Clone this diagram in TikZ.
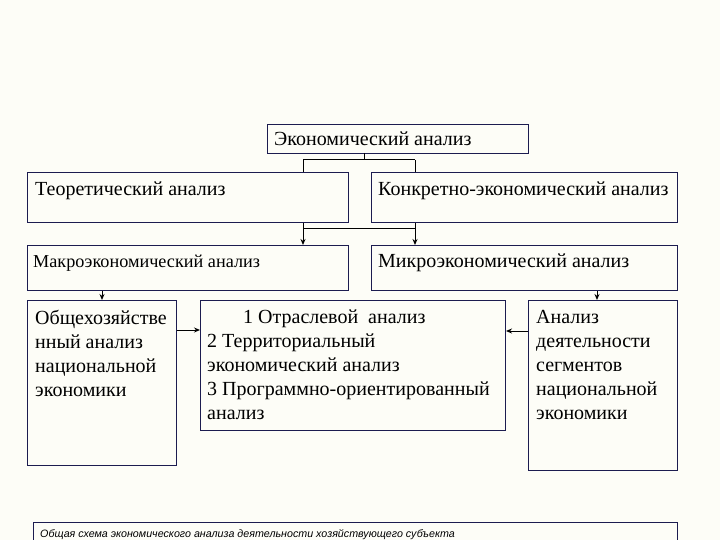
\documentclass[tikz,border=0pt]{standalone}
\usepackage{fontspec}
\setmainfont{Liberation Serif}
\setsansfont{Liberation Sans}
\usetikzlibrary{arrows.meta}
\definecolor{frame}{RGB}{28,28,80}
\definecolor{paper}{RGB}{253,253,247}

\begin{document}
\begin{tikzpicture}[x=1pt, y=-1pt,
  box/.style={draw=frame, line width=1pt, inner sep=0pt, anchor=north west},
  txt/.style={anchor=north west, inner sep=0pt, align=left,
              font=\fontsize{20}{24}\selectfont},
  small/.style={txt, font=\fontsize{18.2}{24}\selectfont},
  line/.style={draw=black, line width=1pt},
  arr/.style={line, -{Stealth[length=6pt, width=5pt]}},
]
\useasboundingbox[fill=paper] (0,0) rectangle (720,540);

% frames
\node[box, minimum width=261pt, minimum height=29pt]  (econ)    at (267,124) {};
\node[box, minimum width=321pt, minimum height=50pt]  (theor)   at (27,172)  {};
\node[box, minimum width=306pt, minimum height=50pt]  (concr)   at (371,172) {};
\node[box, minimum width=321pt, minimum height=45pt]  (macro)   at (27,245)  {};
\node[box, minimum width=306pt, minimum height=45pt]  (micro)   at (371,245) {};
\node[box, minimum width=149pt, minimum height=165pt] (general) at (27,300)  {};
\node[box, minimum width=305pt, minimum height=130pt] (branch)  at (200,300) {};
\node[box, minimum width=149pt, minimum height=170pt] (segm)    at (528,300) {};
\node[box, minimum width=644pt, minimum height=26pt]  (capbox)  at (33,522)  {};

% texts
\node[txt] (econ-t)  at (274,132) {Экономический анализ};
\node[txt] (theor-t) at (35,182)  {Теоретический анализ};
\node[txt] (concr-t) at (378,182) {Конкретно-экономический анализ};
\node[small] (macro-t) at (33,255) {Макроэкономический анализ};
\node[txt] (micro-t) at (378,254) {Микроэкономический анализ};
\node[txt] (general-t) at (35,310) {Общехозяйстве\\нный анализ\\национальной\\экономики};
\node[txt] (branch-t) at (207,310) {\hspace{36pt}1 Отраслевой\ \ анализ\\2 Территориальный\\экономический анализ\\3 Программно-ориентированный\\анализ};
\node[txt] (segm-t) at (536,310) {Анализ\\деятельности\\сегментов\\национальной\\экономики};
\node[anchor=base west, inner sep=0pt, font=\sffamily\itshape\fontsize{10.7}{12}\selectfont]
  (cap-t) at (40,537) {Общая схема экономического анализа деятельности хозяйствующего субъекта};

% connectors
\coordinate (e0) at (364,153);
\coordinate (bL) at (303,160);
\coordinate (bR) at (415,160);
\coordinate (hL) at (303,229);
\coordinate (hR) at (415,229);
\draw[line] (e0) -- (e0 |- bL);
\draw[line] (bL) -- (bR);
\draw[line] (bL) -- (bL |- theor.north);
\draw[line] (bR) -- (bR |- concr.north);
\draw[arr] (bL |- theor.south) -- (bL |- macro.north);
\draw[arr] (bR |- concr.south) -- (bR |- micro.north);
\draw[line] (hL) -- (hR);
\draw[arr] (general.north |- macro.south) -- (general.north);
\draw[arr] ([xshift=-6pt]segm.north |- micro.south) -- ([xshift=-6pt]segm.north);
\draw[arr] ([yshift=-30pt]general.north east) -- ([yshift=-30pt]branch.north west);
\draw[arr] ([yshift=-31pt]segm.north west) -- ([yshift=-31pt]branch.north east);
\end{tikzpicture}
\end{document}
